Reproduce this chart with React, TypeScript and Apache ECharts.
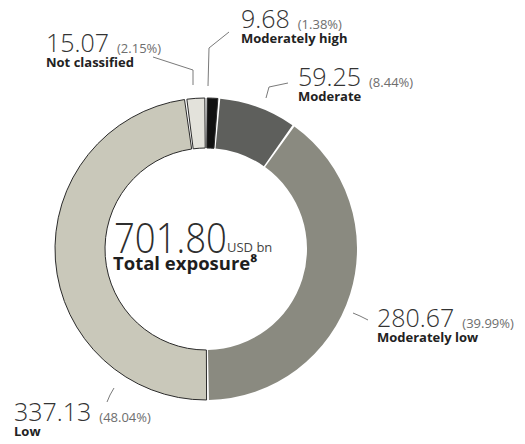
import React, { useEffect, useRef } from "react";
import * as echarts from "echarts";

const categories = ["Moderately high", "Moderate", "Moderately low", "Low", "Not classified"];
const values = [9.68, 59.25, 280.67, 337.13, 15.07];
const shares = ["1.38%", "8.44%", "39.99%", "48.04%", "2.15%"];
const colors = ["#111111", "#5e5f5c", "#8a8a80", "#c9c8ba", "#e3e2db"];
const outlined = [true, false, false, true, true];
const totalValue = "701.80";
const totalUnit = "USD bn";
const totalCaption = "Total exposure⁸";

// label placement (layout only)
const labelPlace = [
  { x: 241, y: 3, line: [[208, 86], [209, 48], [229, 32]] },
  { x: 298, y: 61, line: [[266, 98], [269, 87], [288, 83]] },
  { x: 377, y: 302, line: [[368, 320], [360, 316], [353, 313]] },
  { x: 14, y: 396, line: [[114, 388], [110, 395], [107, 402]] },
  { x: 46, y: 27, line: [[193, 85], [193, 70], [153, 57]] },
];

const FONT = "'Open Sans', 'Noto Sans', sans-serif";

export default function App() {
  const ref = useRef<HTMLDivElement>(null);
  useEffect(() => {
    document.body.style.margin = "0";
    const chart = echarts.init(ref.current!, null, { renderer: "svg" });
    const data = categories.map((name, i) => ({
      name,
      value: values[i],
      itemStyle: {
        color: colors[i],
        borderColor: outlined[i] ? "#2b2b2b" : "transparent",
        borderWidth: outlined[i] ? 1 : 0,
      },
    }));
    chart.setOption({
      animation: false,
      backgroundColor: "#ffffff",
      graphic: [
        {
          type: "text",
          x: 114,
          y: 216,
          scaleX: 0.87,
          style: {
            text: totalValue,
            font: `300 42px ${FONT}`,
            fill: "#2e2e2e",
          },
        },
        {
          type: "text",
          left: 227,
          top: 240,
          style: {
            text: totalUnit,
            font: `400 13px ${FONT}`,
            fill: "#444444",
          },
        },
        {
          type: "text",
          left: 113,
          top: 253,
          style: {
            text: totalCaption,
            font: `700 18.5px ${FONT}`,
            fill: "#1e1e1e",
          },
        },
      ],
      series: [
        {
          type: "pie",
          center: [206, 249],
          radius: [101, 151],
          startAngle: 90,
          clockwise: true,
          padAngle: 0.9,
          avoidLabelOverlap: false,
          emphasis: { disabled: true },
          data,
          label: {
            show: true,
            position: "outside",
            formatter: (p: any) =>
              `{v|${p.value.toFixed(2)}}{s| }{p|(${shares[p.dataIndex]})}\n{n|${p.name}}`,
            rich: {
              v: { fontFamily: FONT, fontWeight: 300, fontSize: 25, color: "#333333", lineHeight: 27, verticalAlign: "bottom" },
              s: { width: 8, fontSize: 13, lineHeight: 19, verticalAlign: "bottom" },
              p: { fontFamily: FONT, fontWeight: 400, fontSize: 13, color: "#6e6e6e", lineHeight: 19, verticalAlign: "bottom" },
              n: { fontFamily: FONT, fontWeight: 700, fontSize: 13, color: "#222222", lineHeight: 16 },
            },
          },
          labelLine: {
            show: true,
            lineStyle: { color: "#7a7a7a", width: 1 },
          },
          labelLayout: (params: any) => {
            const pl = labelPlace[params.dataIndex];
            return {
              x: pl.x,
              y: pl.y,
              align: "left",
              verticalAlign: "top",
              labelLinePoints: pl.line,
            };
          },
        },
      ],
    });
    return () => chart.dispose();
  }, []);
  return (
    <div
      ref={ref}
      style={{ position: "absolute", left: 0, top: 0, width: 525, height: 444 }}
    />
  );
}
